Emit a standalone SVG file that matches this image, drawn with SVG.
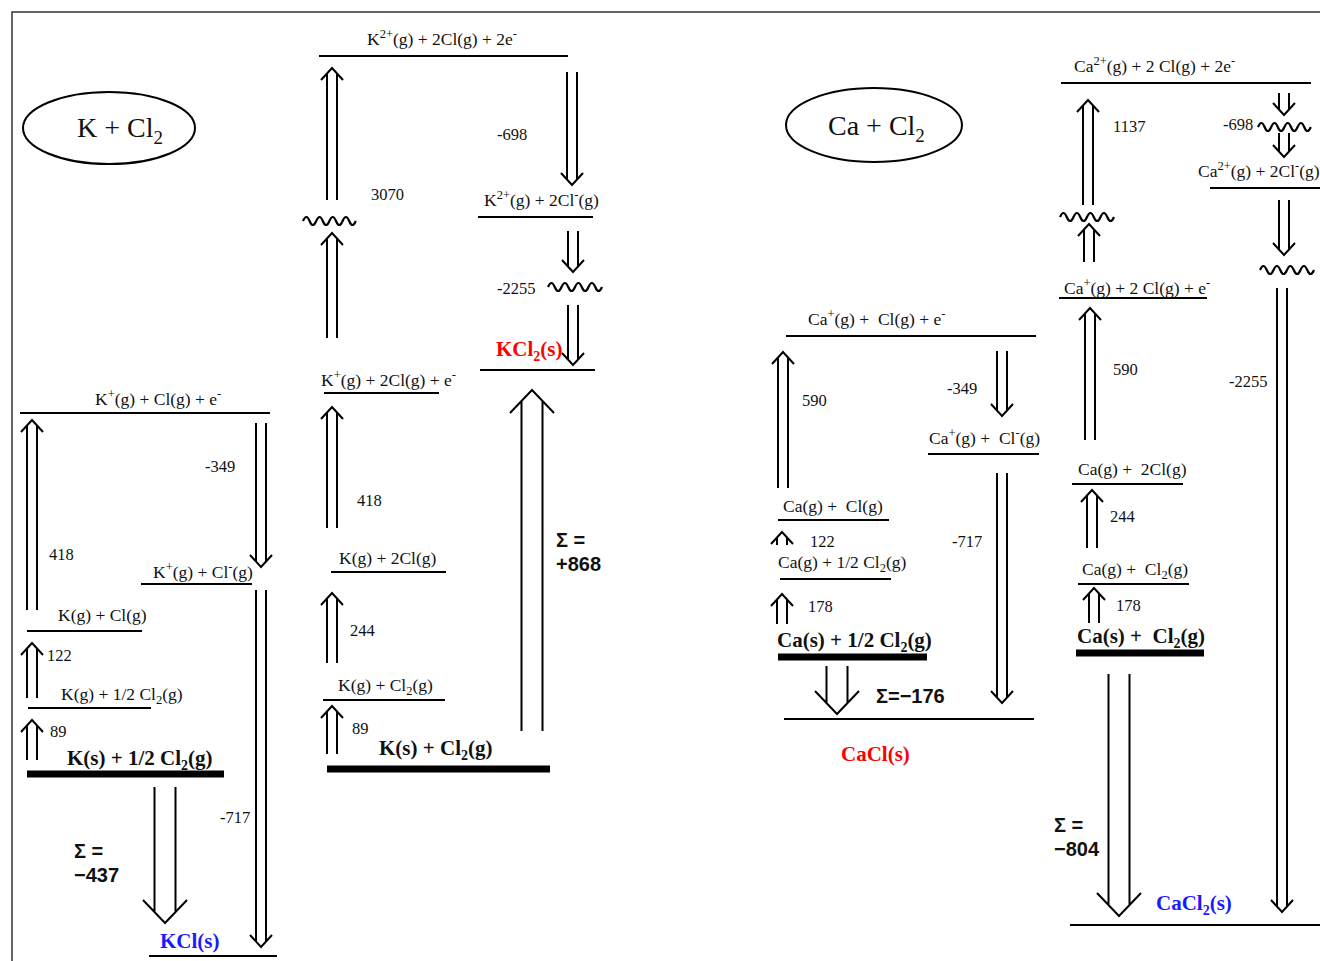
<svg xmlns="http://www.w3.org/2000/svg" width="1320" height="961" viewBox="0 0 1320 961">
<style>
text{font-family:"Liberation Serif","Times New Roman",serif;font-size:17.5px;fill:#111}
.n{font-size:16.5px}
.big{font-size:28px}
.b{font-weight:bold;font-size:21px}
.sig{font-family:"Liberation Sans",Arial,sans-serif;font-weight:bold;font-size:20px}
.red{fill:#ff0000}
.blue{fill:#1a1aff}
.lv{stroke:#000;stroke-width:2;fill:none}
.bar{stroke:#000;stroke-width:7;fill:none}
.ar{stroke:#000;stroke-width:2;fill:none}
.wv{stroke:#000;stroke-width:2.2;fill:none}
.fr{stroke:#333;stroke-width:1.5;fill:none}
.sp{font-size:12.5px}
</style>
<rect width="1320" height="961" fill="#fff"/>
<path class="fr" d="M12,961V12H1320"/>

<g id="titleK"><ellipse cx="109" cy="128" rx="86" ry="36" class="lv" stroke-width="1.6"/><text class="big" x="77" y="137">K + Cl<tspan font-size="19" dy="7">2</tspan></text></g>
<g id="titleCa"><ellipse cx="874" cy="125" rx="88" ry="37" class="lv" stroke-width="1.6"/><text class="big" x="828" y="135">Ca + Cl<tspan font-size="19" dy="7">2</tspan></text></g>

<!-- KCl2 path -->
<g id="k2plus"><path class="lv" d="M319,56H568"/><text x="367" y="45">K<tspan class="sp" dy="-7">2+</tspan><tspan dy="7">(g) + 2Cl(g) + 2e</tspan><tspan class="sp" dy="-7">-</tspan></text></g>
<g id="k2plus_cl"><path class="lv" d="M478,217H593"/><text x="484" y="206">K<tspan class="sp" dy="-7">2+</tspan><tspan dy="7">(g) + 2Cl</tspan><tspan class="sp" dy="-7">-</tspan><tspan dy="7">(g)</tspan></text></g>
<g id="kcl2s"><path class="lv" d="M480,370H595"/><text class="b red" x="496" y="356">KCl<tspan font-size="14" dy="5">2</tspan><tspan dy="-5">(s)</tspan></text></g>
<g id="kplus2cl"><path class="lv" d="M324,393H439"/><text x="321" y="386">K<tspan class="sp" dy="-7">+</tspan><tspan dy="7">(g) + 2Cl(g) + e</tspan><tspan class="sp" dy="-7">-</tspan></text></g>
<g id="kg2cl"><path class="lv" d="M331,572H446"/><text x="339" y="564">K(g) + 2Cl(g)</text></g>
<g id="kgcl2"><path class="lv" d="M323,700H445"/><text x="338" y="691">K(g) + Cl<tspan class="sp" dy="4">2</tspan><tspan dy="-4">(g)</tspan></text></g>
<g id="kscl2"><path class="bar" d="M327,769H550"/><text class="b" x="379" y="755">K(s) + Cl<tspan font-size="14" dy="5">2</tspan><tspan dy="-5">(g)</tspan></text></g>

<!-- KCl path -->
<g id="kplus_cl"><path class="lv" d="M20,413H270"/><text x="95" y="405">K<tspan class="sp" dy="-7">+</tspan><tspan dy="7">(g) + Cl(g) + e</tspan><tspan class="sp" dy="-7">-</tspan></text></g>
<g id="kplus_clm"><path class="lv" d="M141,584H252"/><text x="153" y="578">K<tspan class="sp" dy="-7">+</tspan><tspan dy="7">(g) + Cl</tspan><tspan class="sp" dy="-7">-</tspan><tspan dy="7">(g)</tspan></text></g>
<g id="kgcl"><path class="lv" d="M27,631H142"/><text x="58" y="621">K(g) + Cl(g)</text></g>
<g id="kghalf"><path class="lv" d="M28,708H151"/><text x="61" y="700">K(g) + 1/2 Cl<tspan class="sp" dy="4">2</tspan><tspan dy="-4">(g)</tspan></text></g>
<g id="kshalf"><path class="bar" d="M27,774H224"/><text class="b" x="67" y="765">K(s) + 1/2 Cl<tspan font-size="14" dy="5">2</tspan><tspan dy="-5">(g)</tspan></text></g>
<g id="kcls"><path class="lv" d="M149,956H277"/><text class="b blue" x="160" y="948">KCl(s)</text></g>

<!-- CaCl path -->
<g id="caplus_cl"><path class="lv" d="M786,336H1036"/><text x="808" y="325">Ca<tspan class="sp" dy="-7">+</tspan><tspan dy="7">(g) +&#160; Cl(g) + e</tspan><tspan class="sp" dy="-7">-</tspan></text></g>
<g id="caplus_clm"><path class="lv" d="M928,454H1039"/><text x="929" y="444">Ca<tspan class="sp" dy="-7">+</tspan><tspan dy="7">(g) +&#160; Cl</tspan><tspan class="sp" dy="-7">-</tspan><tspan dy="7">(g)</tspan></text></g>
<g id="cagcl"><path class="lv" d="M778,520H889"/><text x="783" y="512">Ca(g) +&#160; Cl(g)</text></g>
<g id="caghalf"><path class="lv" d="M780,579H891"/><text x="778" y="568">Ca(g) + 1/2 Cl<tspan class="sp" dy="4">2</tspan><tspan dy="-4">(g)</tspan></text></g>
<g id="cashalf"><path class="bar" d="M778,657H927"/><text class="b" x="777" y="647">Ca(s) + 1/2 Cl<tspan font-size="14" dy="5">2</tspan><tspan dy="-5">(g)</tspan></text></g>
<g id="cacls"><path class="lv" d="M784,719H1034"/><text class="b red" x="841" y="761">CaCl(s)</text></g>

<!-- CaCl2 path -->
<g id="ca2plus"><path class="lv" d="M1061,83H1311"/><text x="1074" y="72">Ca<tspan class="sp" dy="-7">2+</tspan><tspan dy="7">(g) + 2 Cl(g) + 2e</tspan><tspan class="sp" dy="-7">-</tspan></text></g>
<g id="ca2plus_cl"><path class="lv" d="M1210,188H1320"/><text x="1198" y="177">Ca<tspan class="sp" dy="-7">2+</tspan><tspan dy="7">(g) + 2Cl</tspan><tspan class="sp" dy="-7">-</tspan><tspan dy="7">(g)</tspan></text></g>
<g id="caplus2cl"><path class="lv" d="M1059,298H1207"/><text x="1064" y="294">Ca<tspan class="sp" dy="-7">+</tspan><tspan dy="7">(g) + 2 Cl(g) + e</tspan><tspan class="sp" dy="-7">-</tspan></text></g>
<g id="cag2cl"><path class="lv" d="M1072,484H1183"/><text x="1078" y="475">Ca(g) +&#160; 2Cl(g)</text></g>
<g id="cagcl2"><path class="lv" d="M1078,584H1189"/><text x="1082" y="575">Ca(g) +&#160; Cl<tspan class="sp" dy="4">2</tspan><tspan dy="-4">(g)</tspan></text></g>
<g id="cascl2"><path class="bar" d="M1076,653H1204"/><text class="b" x="1077" y="643">Ca(s) +&#160; Cl<tspan font-size="14" dy="5">2</tspan><tspan dy="-5">(g)</tspan></text></g>
<g id="cacl2s"><path class="lv" d="M1070,925H1320"/><text class="b blue" x="1156" y="910">CaCl<tspan font-size="14" dy="5">2</tspan><tspan dy="-5">(s)</tspan></text></g>

<g id="connectors">
<!-- K2+ path -->
<path class="ar" d="M327,200V73M337,200V73M321,80L332,68L343,80"/>
<path class="wv" d="M303,221q3.4,-8 6.6,0t6.6,0t6.6,0t6.6,0t6.6,0t6.6,0t6.6,0t6.6,0"/>
<path class="ar" d="M327,338V238M337,338V238M321,245L332,233L343,245"/>
<path class="ar" d="M567,72V180M577,72V180M561,173L572,185L583,173"/>
<path class="ar" d="M568,231V267M578,231V267M562,260L573,272L584,260"/>
<path class="wv" d="M548,287q3.4,-8 6.75,0t6.75,0t6.75,0t6.75,0t6.75,0t6.75,0t6.75,0t6.75,0"/>
<path class="ar" d="M568,305V360M578,305V360M562,353L573,365L584,353"/>
<path class="ar" d="M327,528V412M337,528V412M321,419L332,407L343,419"/>
<path class="ar" d="M327,663V598M337,663V598M321,605L332,593L343,605"/>
<path class="ar" d="M327,754V711M337,754V711M321,718L332,706L343,718"/>
<path class="ar" d="M521.5,731V401M542.5,731V401M510,413L532,390L554,413"/>
<!-- KCl path -->
<path class="ar" d="M27,610V425M37,610V425M21,432L32,420L43,432"/>
<path class="ar" d="M256,423V562M266,423V562M250,555L261,567L272,555"/>
<path class="ar" d="M27,698V648M37,698V648M21,655L32,643L43,655"/>
<path class="ar" d="M27,760V725M37,760V725M21,732L32,720L43,732"/>
<path class="ar" d="M256,590V942M266,590V942M250,935L261,947L272,935"/>
<path class="ar" d="M154.5,787V912M175.5,787V912M143,900L165,923L187,900"/>
<!-- CaCl path -->
<path class="ar" d="M778,488V357M788,488V357M772,364L783,352L794,364"/>
<path class="ar" d="M997,351V411M1007,351V411M991,404L1002,416L1013,404"/>
<path class="ar" d="M777,545V537M787,545V537M771,544L782,532L793,544"/>
<path class="ar" d="M777,624V599M787,624V599M771,606L782,594L793,606"/>
<path class="ar" d="M826.5,666V703M847.5,666V703M815,691L837,714L859,691"/>
<path class="ar" d="M997,473V698M1007,473V698M991,691L1002,703L1013,691"/>
<!-- CaCl2 path -->
<path class="ar" d="M1083,205V105M1093,205V105M1077,112L1088,100L1099,112"/>
<path class="wv" d="M1060,217q3.4,-8 6.75,0t6.75,0t6.75,0t6.75,0t6.75,0t6.75,0t6.75,0t6.75,0"/>
<path class="ar" d="M1084,262V229M1094,262V229M1078,236L1089,224L1100,236"/>
<path class="ar" d="M1279,93V110M1289,93V110M1273,103L1284,115L1295,103"/>
<path class="wv" d="M1258,127q3.4,-8 6.6,0t6.6,0t6.6,0t6.6,0t6.6,0t6.6,0t6.6,0t6.6,0"/>
<path class="ar" d="M1279,133V152M1289,133V152M1273,145L1284,157L1295,145"/>
<path class="ar" d="M1279,200V250M1289,200V250M1273,243L1284,255L1295,243"/>
<path class="wv" d="M1260,270q3.4,-8 6.75,0t6.75,0t6.75,0t6.75,0t6.75,0t6.75,0t6.75,0t6.75,0"/>
<path class="ar" d="M1277,288V907M1287,288V907M1271,900L1282,912L1293,900"/>
<path class="ar" d="M1085,440V313M1095,440V313M1079,320L1090,308L1101,320"/>
<path class="ar" d="M1087,548V495M1097,548V495M1081,502L1092,490L1103,502"/>
<path class="ar" d="M1089,623V593M1099,623V593M1083,600L1094,588L1105,600"/>
<path class="ar" d="M1108.5,674V905M1129.5,674V905M1097,893L1119,916L1141,893"/>
</g>

<g id="labels">
<text class="n" x="371" y="200">3070</text>
<text class="n" x="497" y="140">-698</text>
<text class="n" x="497" y="294">-2255</text>
<text class="n" x="357" y="506">418</text>
<text class="n" x="350" y="636">244</text>
<text class="n" x="352" y="734">89</text>
<text class="sig" x="556" y="547">Σ =</text>
<text class="sig" x="556" y="571">+868</text>
<text class="n" x="49" y="560">418</text>
<text class="n" x="205" y="472">-349</text>
<text class="n" x="47" y="661">122</text>
<text class="n" x="50" y="737">89</text>
<text class="n" x="220" y="823">-717</text>
<text class="sig" x="74" y="858">Σ =</text>
<text class="sig" x="74" y="882">−437</text>
<text class="n" x="802" y="406">590</text>
<text class="n" x="947" y="394">-349</text>
<text class="n" x="810" y="547">122</text>
<text class="n" x="808" y="612">178</text>
<text class="n" x="952" y="547">-717</text>
<text class="sig" x="876" y="703">Σ=−176</text>
<text class="n" x="1113" y="132">1137</text>
<text class="n" x="1223" y="130">-698</text>
<text class="n" x="1113" y="375">590</text>
<text class="n" x="1229" y="387">-2255</text>
<text class="n" x="1110" y="522">244</text>
<text class="n" x="1116" y="611">178</text>
<text class="sig" x="1054" y="832">Σ =</text>
<text class="sig" x="1054" y="856">−804</text>
</g>
</svg>
